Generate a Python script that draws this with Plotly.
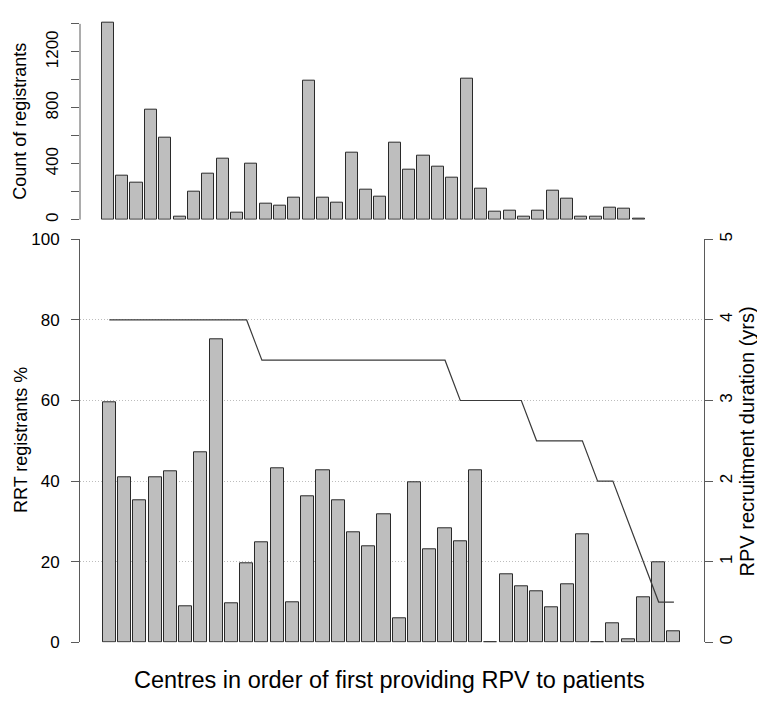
import plotly.graph_objects as go

# ---- data ----
centres = list(range(1, 39))
count_registrants = [1410, 318, 267, 788, 584, 21, 202, 332, 438, 53,
                     403, 118, 100, 160, 995, 160, 123, 482, 218, 162,
                     554, 359, 457, 383, 299, 1011, 220, 60, 67, 23,
                     63, 211, 148, 23, 23, 88, 79, 5]
rrt_pct = [59.5, 41.0, 35.2, 41.0, 42.5, 9.0, 47.2, 75.2, 9.8, 19.6,
           24.9, 43.3, 9.9, 36.3, 42.7, 35.2, 27.2, 23.8, 31.9, 5.9,
           39.8, 23.0, 28.3, 25.2, 42.6, 0.0, 17.0, 13.8, 12.6, 8.8,
           14.4, 26.7, 0.0, 4.7, 0.8, 11.3, 19.8, 2.7]
duration_yrs = [4, 4, 4, 4, 4, 4, 4, 4, 4, 4,
                3.5, 3.5, 3.5, 3.5, 3.5, 3.5, 3.5, 3.5, 3.5, 3.5,
                3.5, 3.5, 3.5, 3, 3, 3, 3, 3, 2.5, 2.5,
                2.5, 2.5, 2, 2, 1.5, 1, 0.5, 0.5]
top_ticks = [0, 200, 400, 600, 800, 1000, 1200, 1400]
top_ticktext = ["0", "", "400", "", "800", "", "1200", ""]
pct_ticks = [0, 20, 40, 60, 80, 100]
yrs_ticks = [0, 1, 2, 3, 4, 5]

W, H = 757, 702
FONT = "Liberation Sans"
AX = "#5a5a5a"


def fx(p):
    return p / W


def fy(p):
    return 1 - p / H


# pixel geometry
left_px, right_px = 80, 703.8
top_c1, top_pitch = 107.8, 14.35
bot_c1, bot_pitch = 109.3, 15.26
top_zero_px, top_1400_px = 216.7, 15.3
top_range_max = 1430
top_dom_top_px = top_zero_px - top_range_max * (top_zero_px - top_1400_px) / 1400
bot_zero_px, bot_top_px = 651, 236.7

fig = go.Figure()

fig.add_trace(go.Bar(
    x=centres, y=count_registrants, xaxis="x", yaxis="y",
    width=0.84, marker=dict(color="#bebebe", line=dict(color="#2a2a2a", width=1)),
    showlegend=False, hoverinfo="x+y"))

fig.add_trace(go.Bar(
    x=centres, y=rrt_pct, xaxis="x2", yaxis="y2",
    width=0.86, marker=dict(color="#bebebe", line=dict(color="#2a2a2a", width=1)),
    showlegend=False, hoverinfo="x+y"))

fig.add_trace(go.Scatter(
    x=centres, y=duration_yrs, xaxis="x2", yaxis="y3", mode="lines",
    line=dict(color="#3a3a3a", width=1.2), showlegend=False))

tickfont = dict(family=FONT, size=17, color="black")

fig.update_layout(
    width=W, height=H, autosize=False,
    margin=dict(l=0, r=0, t=0, b=0, pad=0),
    paper_bgcolor="white", plot_bgcolor="white",
    bargap=0,
    xaxis=dict(domain=[fx(left_px), fx(right_px)],
               range=[1 + (left_px - top_c1) / top_pitch, 1 + (right_px - top_c1) / top_pitch],
               showticklabels=False, showgrid=False, zeroline=False, showline=False,
               ticks="", anchor="y"),
    yaxis=dict(domain=[fy(top_zero_px), fy(top_dom_top_px)], range=[0, top_range_max],
               anchor="x", tickvals=top_ticks, ticktext=top_ticktext,
               ticks="outside", ticklen=8, tickwidth=1, tickcolor=AX,
               tickangle=-90, tickfont=tickfont, ticklabelstandoff=6,
               showgrid=False, zeroline=False, showline=False),
    xaxis2=dict(domain=[fx(left_px), fx(right_px)],
                range=[1 + (left_px - bot_c1) / bot_pitch, 1 + (right_px - bot_c1) / bot_pitch],
                showticklabels=False, showgrid=False, zeroline=False, showline=False,
                ticks="", anchor="y2"),
    yaxis2=dict(domain=[fy(bot_zero_px), fy(bot_top_px)], range=[0, 100],
                anchor="x2", tickvals=pct_ticks,
                ticks="outside", ticklen=8, tickwidth=1, tickcolor=AX,
                tickfont=tickfont, ticklabelstandoff=8,
                showgrid=True, gridcolor="#bdbdbd", griddash="1px,2px", gridwidth=1,
                zeroline=False, showline=True, linecolor=AX, linewidth=1),
    yaxis3=dict(overlaying="y2", side="right", anchor="x2", range=[0, 5],
                tickvals=yrs_ticks, ticks="outside", ticklen=8, tickwidth=1,
                tickcolor=AX, tickangle=-90, tickfont=tickfont, ticklabelstandoff=-1,
                showgrid=False, zeroline=False, showline=True, linecolor=AX, linewidth=1),
)

# top panel axis line spanning only 0..1400
fig.add_shape(type="line", xref="paper", yref="y", x0=fx(left_px), x1=fx(left_px),
              y0=0, y1=1400, line=dict(color=AX, width=1))

ann = [
    dict(text="Count of registrants", x=fx(20), y=fy(116), textangle=-90, size=18),
    dict(text="RRT registrants %", x=fx(21), y=fy(443), textangle=-90, size=18),
    dict(text="RPV recruitment duration (yrs)", x=fx(746.5), y=fy(445), textangle=-90, size=20),
    dict(text="Centres in order of first providing RPV to patients", x=fx(389), y=fy(690),
         textangle=0, size=23.5),
]
for a in ann:
    fig.add_annotation(text=a["text"], x=a["x"], y=a["y"], xref="paper", yref="paper",
                       showarrow=False, textangle=a["textangle"],
                       xanchor="center", yanchor="middle",
                       font=dict(family=FONT, size=a["size"], color="black"))

fig.write_html("out.html", config={"displayModeBar": False},
               post_script="document.body.style.margin='0';document.body.style.overflow='hidden';")
